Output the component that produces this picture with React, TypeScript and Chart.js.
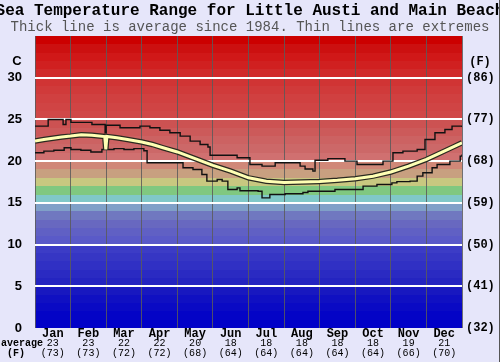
import React, { useEffect, useRef } from 'react';
import { Chart, registerables } from 'chart.js';

Chart.register(...registerables);

const titleText = 'Sea Temperature Range for Little Austi and Main Beach';
const subtitleText = 'Thick line is average since 1984. Thin lines are extremes';

const months = ['Jan', 'Feb', 'Mar', 'Apr', 'May', 'Jun', 'Jul', 'Aug', 'Sep', 'Oct', 'Nov', 'Dec'];
const monthAvgC = [23, 23, 22, 22, 20, 18, 18, 18, 18, 18, 19, 21];
const monthAvgF = [73, 73, 72, 72, 68, 64, 64, 64, 64, 64, 66, 70];
const yTickValues = [0, 5, 10, 15, 20, 25, 30];

// x positions are in months since 1 Jan (0..12)
const avgX = [0, 0.25, 0.5, 0.75, 1.0, 1.3, 1.6, 1.96, 1.99, 2.02, 2.3, 2.6, 3.0, 3.3, 3.6, 4.0, 4.5, 5.0, 5.5, 6.0, 6.5, 7.0, 7.5, 8.0, 8.5, 9.0, 9.5, 10.0, 10.5, 11.0, 11.5, 11.8, 12.0];
const avgV = [22.4, 22.6, 22.75, 22.9, 23.0, 23.15, 23.1, 22.95, 21.4, 22.95, 22.8, 22.6, 22.3, 22.0, 21.6, 21.1, 20.3, 19.5, 18.8, 18.0, 17.6, 17.45, 17.5, 17.55, 17.7, 17.9, 18.2, 18.7, 19.4, 20.2, 21.2, 21.8, 22.2];

const maxX = [0, 0.37, 0.79, 0.87, 1.01, 1.6, 1.94, 1.97, 2.0, 2.39, 2.95, 3.23, 3.51, 3.79, 4.08, 4.36, 4.64, 4.86, 4.92, 5.68, 6.04, 6.38, 6.75, 7.45, 7.59, 7.81, 7.87, 8.23, 8.71, 9.05, 9.78, 10.06, 10.34, 10.74, 10.96, 11.24, 11.52, 11.72, 12.0];
const maxV = [24.2, 25.0, 24.4, 25.0, 24.65, 24.4, 24.4, 23.4, 24.3, 24.0, 24.2, 24.0, 23.7, 23.4, 23.0, 22.4, 22.0, 21.7, 20.7, 20.4, 19.6, 19.4, 19.8, 19.4, 19.05, 18.8, 20.1, 20.3, 20.0, 19.6, 20.0, 21.0, 21.2, 21.4, 22.6, 23.4, 23.8, 24.2, 24.1];

const minX = [0, 0.25, 0.53, 0.82, 1.01, 1.29, 1.57, 1.88, 2.22, 2.5, 2.78, 3.06, 3.15, 3.99, 4.16, 4.44, 4.69, 4.83, 5.12, 5.26, 5.42, 5.68, 5.76, 6.27, 6.38, 6.6, 7.03, 7.53, 7.67, 8.43, 8.85, 9.22, 9.61, 10.03, 10.17, 10.54, 10.74, 10.9, 11.16, 11.3, 11.66, 11.95, 12.0];
const minV = [21.0, 21.2, 21.3, 21.6, 21.4, 21.3, 21.1, 21.4, 21.5, 21.4, 21.5, 21.25, 19.8, 19.8, 19.2, 19.0, 18.4, 17.6, 17.8, 17.6, 16.6, 16.8, 16.45, 16.4, 15.6, 16.0, 16.1, 16.25, 16.4, 16.6, 16.6, 17.0, 17.2, 17.4, 17.55, 17.6, 18.2, 18.6, 19.2, 19.6, 20.0, 20.6, 20.8];

// background colour band for each 1 degree from 0 to 35
const bandColors = [
  '#0000c8', '#0404c6', '#0a0ac4', '#1010c2', '#1818c0',
  '#2424c0', '#2a2ac2', '#3030c4', '#3636c4', '#3c3cc6',
  '#5a5ac8', '#6060c4', '#6868c0', '#7078c0', '#80a0c8',
  '#80c8c8', '#80c880', '#c8c880', '#c8a080', '#d08878',
  '#d07070', '#cc6868', '#cc6262', '#cc5a5a', '#cc5252',
  '#d04848', '#d04444', '#d04040', '#d03a3a', '#d03434',
  '#d02a2a', '#d02020', '#d01818', '#cc1010', '#cc0000',
];

const PAGE_BG = '#e6e6fa';
const MONO = "'Liberation Mono', 'DejaVu Sans Mono', monospace";

const toPts = (xs: number[], vs: number[]) => xs.map((x, i) => ({ x, y: vs[i] }));

const decorPlugin = {
  id: 'decor',
  beforeDraw(chart: any) {
    const { ctx, chartArea: a, scales } = chart;
    const y = scales.y;
    ctx.save();
    ctx.fillStyle = PAGE_BG;
    ctx.fillRect(0, 0, chart.width, chart.height);
    for (let i = 0; i < bandColors.length; i++) {
      const t = Math.round(y.getPixelForValue(i + 1));
      const b = Math.round(y.getPixelForValue(i));
      ctx.fillStyle = bandColors[i];
      ctx.fillRect(a.left, t, a.right - a.left, b - t);
    }
    ctx.restore();
  },
  afterDraw(chart: any) {
    const { ctx, chartArea: a, scales } = chart;
    const x = scales.x;
    ctx.save();
    ctx.textAlign = 'center';
    ctx.textBaseline = 'middle';
    ctx.fillStyle = '#000';
    ctx.font = `bold 16px ${MONO}`;
    ctx.fillText(titleText, chart.width / 2, 11);
    ctx.fillStyle = '#555';
    ctx.font = `14px ${MONO}`;
    ctx.fillText(subtitleText, chart.width / 2, 27);

    ctx.fillStyle = '#000';
    for (let i = 0; i < months.length; i++) {
      const cx = x.getPixelForValue(i + 0.5);
      ctx.font = `bold 12px ${MONO}`;
      ctx.fillText(months[i], cx, a.bottom + 6);
      ctx.font = `10px ${MONO}`;
      ctx.fillText(String(monthAvgC[i]), cx, a.bottom + 15);
      ctx.fillText(`(${monthAvgF[i]})`, cx, a.bottom + 25);
    }
    ctx.font = `bold 10px ${MONO}`;
    ctx.fillText('average', 22, a.bottom + 15);
    ctx.fillText('(F)', 16, a.bottom + 25);

    ctx.font = "bold 13px 'Liberation Sans', Arial, sans-serif";
    ctx.fillText('C', 17, 61);
    ctx.font = `bold 12px ${MONO}`;
    ctx.fillText('(F)', 480, 62);

    ctx.strokeStyle = '#555';
    ctx.lineWidth = 1;
    ctx.beginPath();
    ctx.moveTo(499.5, 0);
    ctx.lineTo(499.5, chart.height);
    ctx.stroke();
    ctx.restore();
  },
};

export default function App() {
  const ref = useRef<HTMLCanvasElement | null>(null);

  useEffect(() => {
    if (!ref.current) return;
    const chart = new Chart(ref.current, {
      type: 'line',
      data: {
        datasets: [
          {
            label: 'Average',
            data: toPts(avgX, avgV),
            borderColor: '#ffffb4',
            borderWidth: 3,
            pointRadius: 0,
            tension: 0,
            order: 0,
          },
          {
            label: 'Average outline',
            data: toPts(avgX, avgV),
            borderColor: '#2a2a20',
            borderWidth: 5.5,
            pointRadius: 0,
            tension: 0,
            order: 1,
          },
          {
            label: 'Maximum',
            data: toPts(maxX, maxV),
            borderColor: '#111',
            borderWidth: 1.4,
            pointRadius: 0,
            stepped: true,
            order: 2,
          },
          {
            label: 'Minimum',
            data: toPts(minX, minV),
            borderColor: '#111',
            borderWidth: 1.4,
            pointRadius: 0,
            stepped: true,
            order: 3,
          },
        ],
      },
      options: {
        responsive: false,
        animation: false,
        events: [],
        layout: { padding: { top: 36, bottom: 34, left: 0, right: 0 } },
        plugins: {
          legend: { display: false },
          tooltip: { enabled: false },
          title: { display: false },
        },
        scales: {
          x: {
            type: 'linear',
            min: 0,
            max: 12,
            ticks: { display: false, stepSize: 1 },
            border: { display: false },
            grid: { color: 'rgba(90,90,90,0.85)', lineWidth: 1, drawTicks: false },
          },
          y: {
            type: 'linear',
            position: 'left',
            min: 0,
            max: 35,
            afterBuildTicks: (s: any) => {
              s.ticks = yTickValues.map((v) => ({ value: v }));
            },
            afterFit: (s: any) => {
              s.width = 35;
            },
            ticks: {
              padding: 13,
              color: '#000',
              font: { family: "'Liberation Sans', Arial, sans-serif", size: 13, weight: 'bold' },
              callback: (v: any) => String(v),
            },
            border: { display: false },
            grid: {
              drawTicks: false,
              lineWidth: 2,
              color: (c: any) => (c.tick && c.tick.value > 0 && c.tick.value < 35 ? '#ffffff' : 'rgba(0,0,0,0)'),
            },
          },
          y2: {
            type: 'linear',
            position: 'right',
            min: 0,
            max: 35,
            afterBuildTicks: (s: any) => {
              s.ticks = yTickValues.map((v) => ({ value: v }));
            },
            afterFit: (s: any) => {
              s.width = 38;
            },
            ticks: {
              padding: 4,
              color: '#000',
              font: { family: MONO, size: 12, weight: 'bold' },
              callback: (v: any) => `(${Math.round(Number(v) * 1.8 + 32)})`,
            },
            border: { display: false },
            grid: { display: false, drawTicks: false },
          },
        },
      },
      plugins: [decorPlugin],
    } as any);
    return () => chart.destroy();
  }, []);

  return (
    <div style={{ position: 'fixed', left: 0, top: 0, width: 500, height: 362, background: PAGE_BG }}>
      <canvas ref={ref} width={500} height={362} style={{ display: 'block', width: 500, height: 362 }} />
    </div>
  );
}
